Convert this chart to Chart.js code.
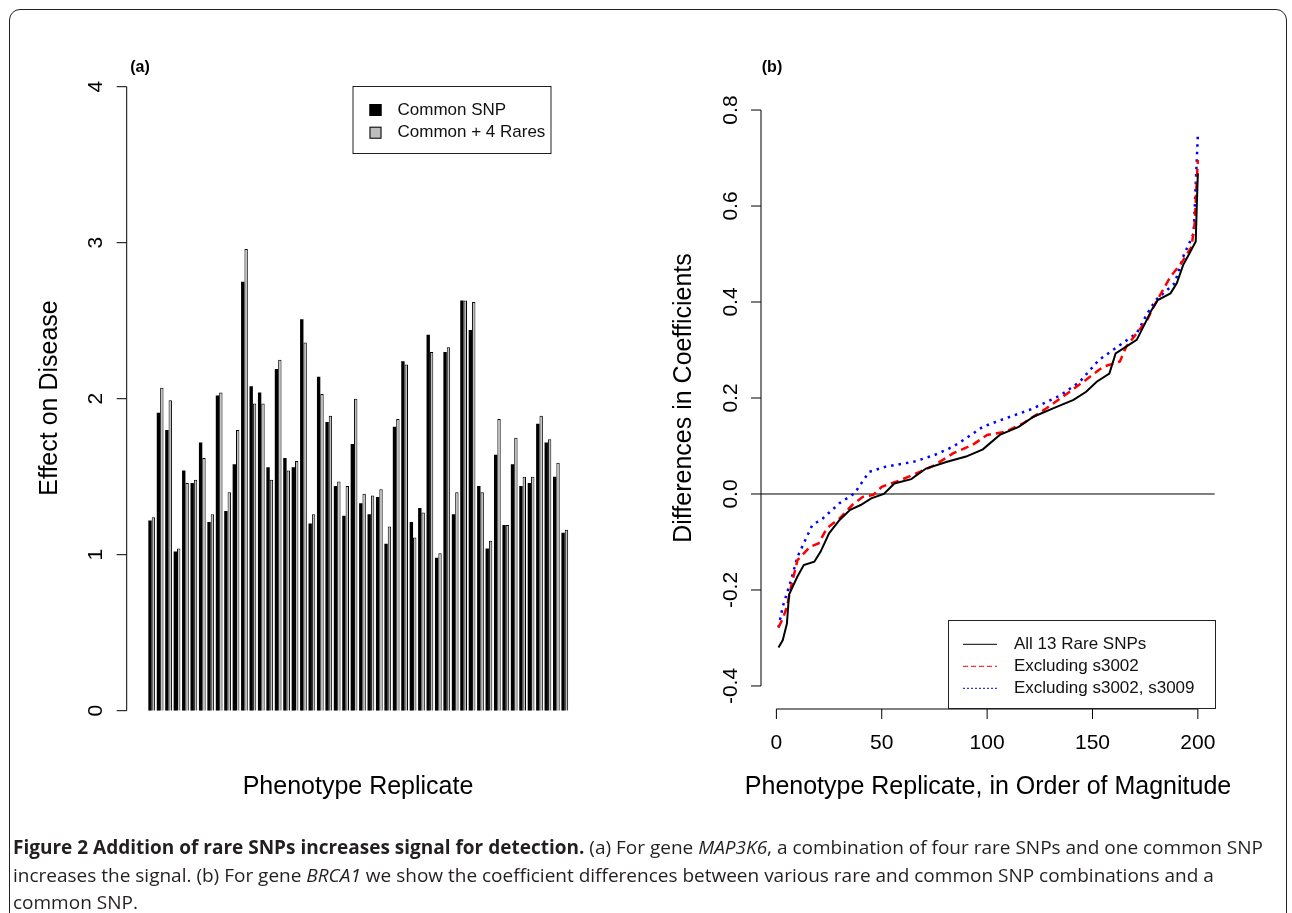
<!DOCTYPE html>
<html>
<head>
<meta charset="utf-8">
<script src="https://cdn.jsdelivr.net/npm/chart.js@4/dist/chart.umd.min.js"></script>
<style>
  html, body { margin: 0; padding: 0; background: #fff; }
  #page { position: relative; width: 1292px; height: 913px; overflow: hidden; }
  #frame {
    position: absolute; left: 9px; top: 9px; width: 1278px; height: 960px;
    border: 1.5px solid #222; border-radius: 11px; box-sizing: border-box;
  }
  canvas { position: absolute; left: 0; top: 0; pointer-events: none; }
  #caption {
    position: absolute; left: 13px; top: 834px; white-space: nowrap;
    font-family: "Open Sans", sans-serif; font-size: 19px; line-height: 27.5px; color: #231f20;
  }
</style>
</head>
<body>
<div id="page">
  <div id="frame"></div>
  <canvas id="chart-a" width="1292" height="913"></canvas>
  <canvas id="chart-b" width="1292" height="913"></canvas>
  <div id="caption">
    <b>Figure 2 Addition of rare SNPs increases signal for detection.</b> (a) For gene <i>MAP3K6</i>, a combination of four rare SNPs and one common SNP<br>
    increases the signal. (b) For gene <i>BRCA1</i> we show the coefficient differences between various rare and common SNP combinations and a<br>
    common SNP.
  </div>
</div>
<script>
// ── Panel (a): effect on disease per phenotype replicate ──────────────────
const replicates = ['1','2','3','4','5','6','7','8','9','10','11','12','13','14','15','16','17','18','19','20',
  '21','22','23','24','25','26','27','28','29','30','31','32','33','34','35','36','37','38','39','40',
  '41','42','43','44','45','46','47','48','49','50'];
const commonSnp = [1.22, 1.91, 1.80, 1.02, 1.54, 1.46, 1.72, 1.21, 2.02, 1.28,
                   1.58, 2.75, 2.08, 2.04, 1.56, 2.19, 1.62, 1.56, 2.51, 1.20,
                   2.14, 1.85, 1.44, 1.25, 1.71, 1.33, 1.26, 1.37, 1.07, 1.82,
                   2.24, 1.21, 1.30, 2.41, 0.98, 2.30, 1.26, 2.63, 2.44, 1.44,
                   1.04, 1.64, 1.19, 1.58, 1.44, 1.46, 1.84, 1.72, 1.50, 1.14];
const commonRares = [1.24, 2.07, 1.99, 1.04, 1.46, 1.48, 1.62, 1.26, 2.04, 1.40,
                     1.80, 2.96, 1.97, 1.97, 1.48, 2.25, 1.54, 1.60, 2.36, 1.26,
                     2.03, 1.89, 1.47, 1.44, 2.00, 1.39, 1.38, 1.42, 1.18, 1.87,
                     2.22, 1.11, 1.27, 2.30, 1.01, 2.33, 1.40, 2.63, 2.62, 1.40,
                     1.09, 1.87, 1.19, 1.75, 1.50, 1.50, 1.89, 1.74, 1.59, 1.16];
const aYTicks = [0, 1, 2, 3, 4];

// ── Panel (b): sorted coefficient differences, [rank, difference] ─────────
const allRare = [[1,-0.32],[3,-0.305],[5,-0.27],[6,-0.21],[7,-0.20],[10,-0.172],[13,-0.148],[18,-0.141],
  [21,-0.12],[25,-0.082],[30,-0.054],[35,-0.033],[40,-0.023],[45,-0.009],[51,0.0],[56,0.022],[64,0.031],
  [71,0.053],[81,0.067],[90,0.078],[98,0.093],[106,0.123],[115,0.14],[122,0.161],[131,0.178],[141,0.196],
  [147,0.213],[152,0.234],[158,0.251],[161,0.293],[166,0.307],[171,0.321],[175,0.356],[178,0.383],
  [181,0.404],[187,0.418],[190,0.439],[193,0.477],[196,0.501],[199,0.526],[199.5,0.60],[200,0.668]];
const excl3002 = [[1,-0.278],[3,-0.26],[5,-0.235],[7,-0.193],[10,-0.138],[16,-0.11],[20,-0.103],[24,-0.071],
  [30,-0.051],[36,-0.023],[41,-0.006],[46,-0.002],[50,0.015],[59,0.029],[68,0.046],[75,0.06],[84,0.085],
  [93,0.102],[100,0.123],[109,0.13],[117,0.147],[128,0.178],[136,0.203],[147,0.238],[155,0.265],[163,0.276],
  [166,0.307],[171,0.335],[176,0.363],[179,0.39],[187,0.453],[192,0.48],[197,0.515],[198.5,0.564],[200,0.696]];
const excl3002_3009 = [[1,-0.278],[3,-0.235],[7,-0.179],[10,-0.131],[17,-0.065],[22,-0.051],[30,-0.019],
  [37,0.001],[44,0.046],[52,0.057],[65,0.067],[75,0.081],[84,0.099],[90,0.116],[98,0.14],[109,0.158],
  [120,0.175],[125,0.185],[135,0.206],[144,0.234],[153,0.279],[161,0.304],[171,0.335],[176,0.376],
  [180,0.404],[189,0.439],[193,0.494],[198,0.543],[200,0.748]];
const bXTicks = [0, 50, 100, 150, 200];
const bYTicks = [-0.4, -0.2, 0.0, 0.2, 0.4, 0.6, 0.8];

const FONT = '"Liberation Sans", Arial, sans-serif';

function seg(ctx, x0, y0, x1, y1) {
  ctx.beginPath(); ctx.moveTo(x0, y0); ctx.lineTo(x1, y1); ctx.stroke();
}

function vText(ctx, txt, x, y, size) {
  ctx.save();
  ctx.translate(x, y);
  ctx.rotate(-Math.PI / 2);
  ctx.font = size + 'px ' + FONT;
  ctx.textAlign = 'center';
  ctx.textBaseline = 'middle';
  ctx.fillText(txt, 0, 0);
  ctx.restore();
}

// R-style axes, titles and legend, drawn through the chart's scales
const rStyle = {
  id: 'rStyle',
  beforeDatasetsDraw(chart, args, o) {
    if (!o.zeroLine) return;
    const ctx = chart.ctx, ca = chart.chartArea;
    const y0 = chart.scales.y.getPixelForValue(0);
    ctx.save();
    ctx.strokeStyle = '#000'; ctx.lineWidth = 1;
    seg(ctx, ca.left, y0, ca.right, y0);
    ctx.restore();
  },
  afterDraw(chart, args, o) {
    const ctx = chart.ctx, ca = chart.chartArea;
    const xs = chart.scales.x, ys = chart.scales.y;
    ctx.save();
    ctx.strokeStyle = '#000'; ctx.fillStyle = '#000'; ctx.lineWidth = 1;

    // y axis
    const ax = ca.left - o.yAxisGap;
    const yt = o.yTicks;
    seg(ctx, ax, ys.getPixelForValue(yt[0]), ax, ys.getPixelForValue(yt[yt.length - 1]));
    yt.forEach(v => {
      const p = ys.getPixelForValue(v);
      seg(ctx, ax - 10, p, ax, p);
      vText(ctx, o.yFormat(v), ax - 30, p, 21);
    });
    vText(ctx, o.yTitle, ax - 77, 398, 25);

    // x axis
    if (o.xTicks) {
      const xt = o.xTicks, ay = ca.bottom;
      seg(ctx, xs.getPixelForValue(xt[0]), ay, xs.getPixelForValue(xt[xt.length - 1]), ay);
      ctx.font = '21px ' + FONT;
      ctx.textAlign = 'center'; ctx.textBaseline = 'middle';
      xt.forEach(v => {
        const p = xs.getPixelForValue(v);
        seg(ctx, p, ay, p, ay + 10);
        ctx.fillText(String(v), p, ay + 34);
      });
    }
    ctx.font = '25px ' + FONT;
    ctx.textAlign = 'center'; ctx.textBaseline = 'middle';
    ctx.fillText(o.xTitle, o.xTitleX, 787);

    // panel tag
    ctx.font = 'bold 16px ' + FONT;
    ctx.fillText(o.tag, o.tagX, 68);

    // legend
    const lg = o.legend;
    ctx.fillStyle = '#fff';
    ctx.fillRect(lg.x, lg.y, lg.w, lg.h);
    ctx.strokeStyle = '#222';
    ctx.strokeRect(lg.x + 0.5, lg.y + 0.5, lg.w, lg.h);
    ctx.font = '17px ' + FONT;
    ctx.textAlign = 'left';
    chart.data.datasets.forEach((ds, i) => {
      const ry = lg.y + lg.rowTop + i * lg.rowGap;
      if (lg.kind === 'box') {
        ctx.fillStyle = ds.backgroundColor;
        ctx.fillRect(lg.x + 17, ry - 6, 12, 12);
        ctx.strokeStyle = '#000';
        ctx.strokeRect(lg.x + 17.5, ry - 5.5, 11, 11);
      } else {
        ctx.strokeStyle = ds.borderColor;
        ctx.setLineDash(ds.legendDash);
        seg(ctx, lg.x + 15, ry, lg.x + 49, ry);
        ctx.setLineDash([]);
      }
      ctx.fillStyle = '#111';
      ctx.fillText(ds.label, lg.x + lg.textX, ry);
    });
    ctx.restore();
  }
};

new Chart(document.getElementById('chart-a'), {
  type: 'bar',
  data: {
    labels: replicates,
    datasets: [
      { label: 'Common SNP', data: commonSnp, backgroundColor: '#000', borderColor: '#000', borderWidth: 0 },
      { label: 'Common + 4 Rares', data: commonRares, backgroundColor: '#bebebe', borderColor: '#000', borderWidth: 1 }
    ]
  },
  options: {
    responsive: false, animation: false, events: [],
    layout: { padding: { left: 147.5, right: 723, top: 86.7, bottom: 202.3 } },
    datasets: { bar: { categoryPercentage: 0.8, barPercentage: 1 } },
    scales: {
      x: { display: false, offset: true },
      y: { display: false, min: 0, max: 4 }
    },
    plugins: {
      legend: { display: false }, tooltip: { enabled: false },
      rStyle: {
        yAxisGap: 20.8, yTicks: aYTicks, yFormat: v => String(v), yTitle: 'Effect on Disease',
        xTitle: 'Phenotype Replicate', xTitleX: 358, tag: '(a)', tagX: 140,
        legend: { kind: 'box', x: 352.5, y: 86, w: 198, h: 67, rowTop: 24, rowGap: 22.7, textX: 45 }
      }
    }
  },
  plugins: [rStyle]
});

new Chart(document.getElementById('chart-b'), {
  type: 'line',
  data: {
    datasets: [
      { label: 'All 13 Rare SNPs', data: allRare.map(([x, y]) => ({ x, y })),
        borderColor: '#000', borderWidth: 2, legendDash: [] },
      { label: 'Excluding s3002', data: excl3002.map(([x, y]) => ({ x, y })),
        borderColor: '#ff0000', borderWidth: 2.5, borderDash: [8, 5], legendDash: [5, 3] },
      { label: 'Excluding s3002, s3009', data: excl3002_3009.map(([x, y]) => ({ x, y })),
        borderColor: '#0000ff', borderWidth: 2.5, borderDash: [2.5, 5], legendDash: [2, 2] }
    ]
  },
  options: {
    responsive: false, animation: false, events: [],
    layout: { padding: { left: 761, right: 77.3, top: 87, bottom: 204 } },
    elements: { point: { radius: 0 }, line: { tension: 0 } },
    scales: {
      x: { type: 'linear', display: false, min: -7.3, max: 208 },
      y: { display: false, min: -0.448, max: 0.848 }
    },
    plugins: {
      legend: { display: false }, tooltip: { enabled: false },
      rStyle: {
        zeroLine: true,
        yAxisGap: 0, yTicks: bYTicks, yFormat: v => v.toFixed(1), yTitle: 'Differences in Coefficients',
        xTicks: bXTicks, xTitle: 'Phenotype Replicate, in Order of Magnitude', xTitleX: 988,
        tag: '(b)', tagX: 772,
        legend: { kind: 'line', x: 948, y: 620, w: 267, h: 88, rowTop: 24.3, rowGap: 22, textX: 66 }
      }
    }
  },
  plugins: [rStyle]
});
</script>
</body>
</html>
